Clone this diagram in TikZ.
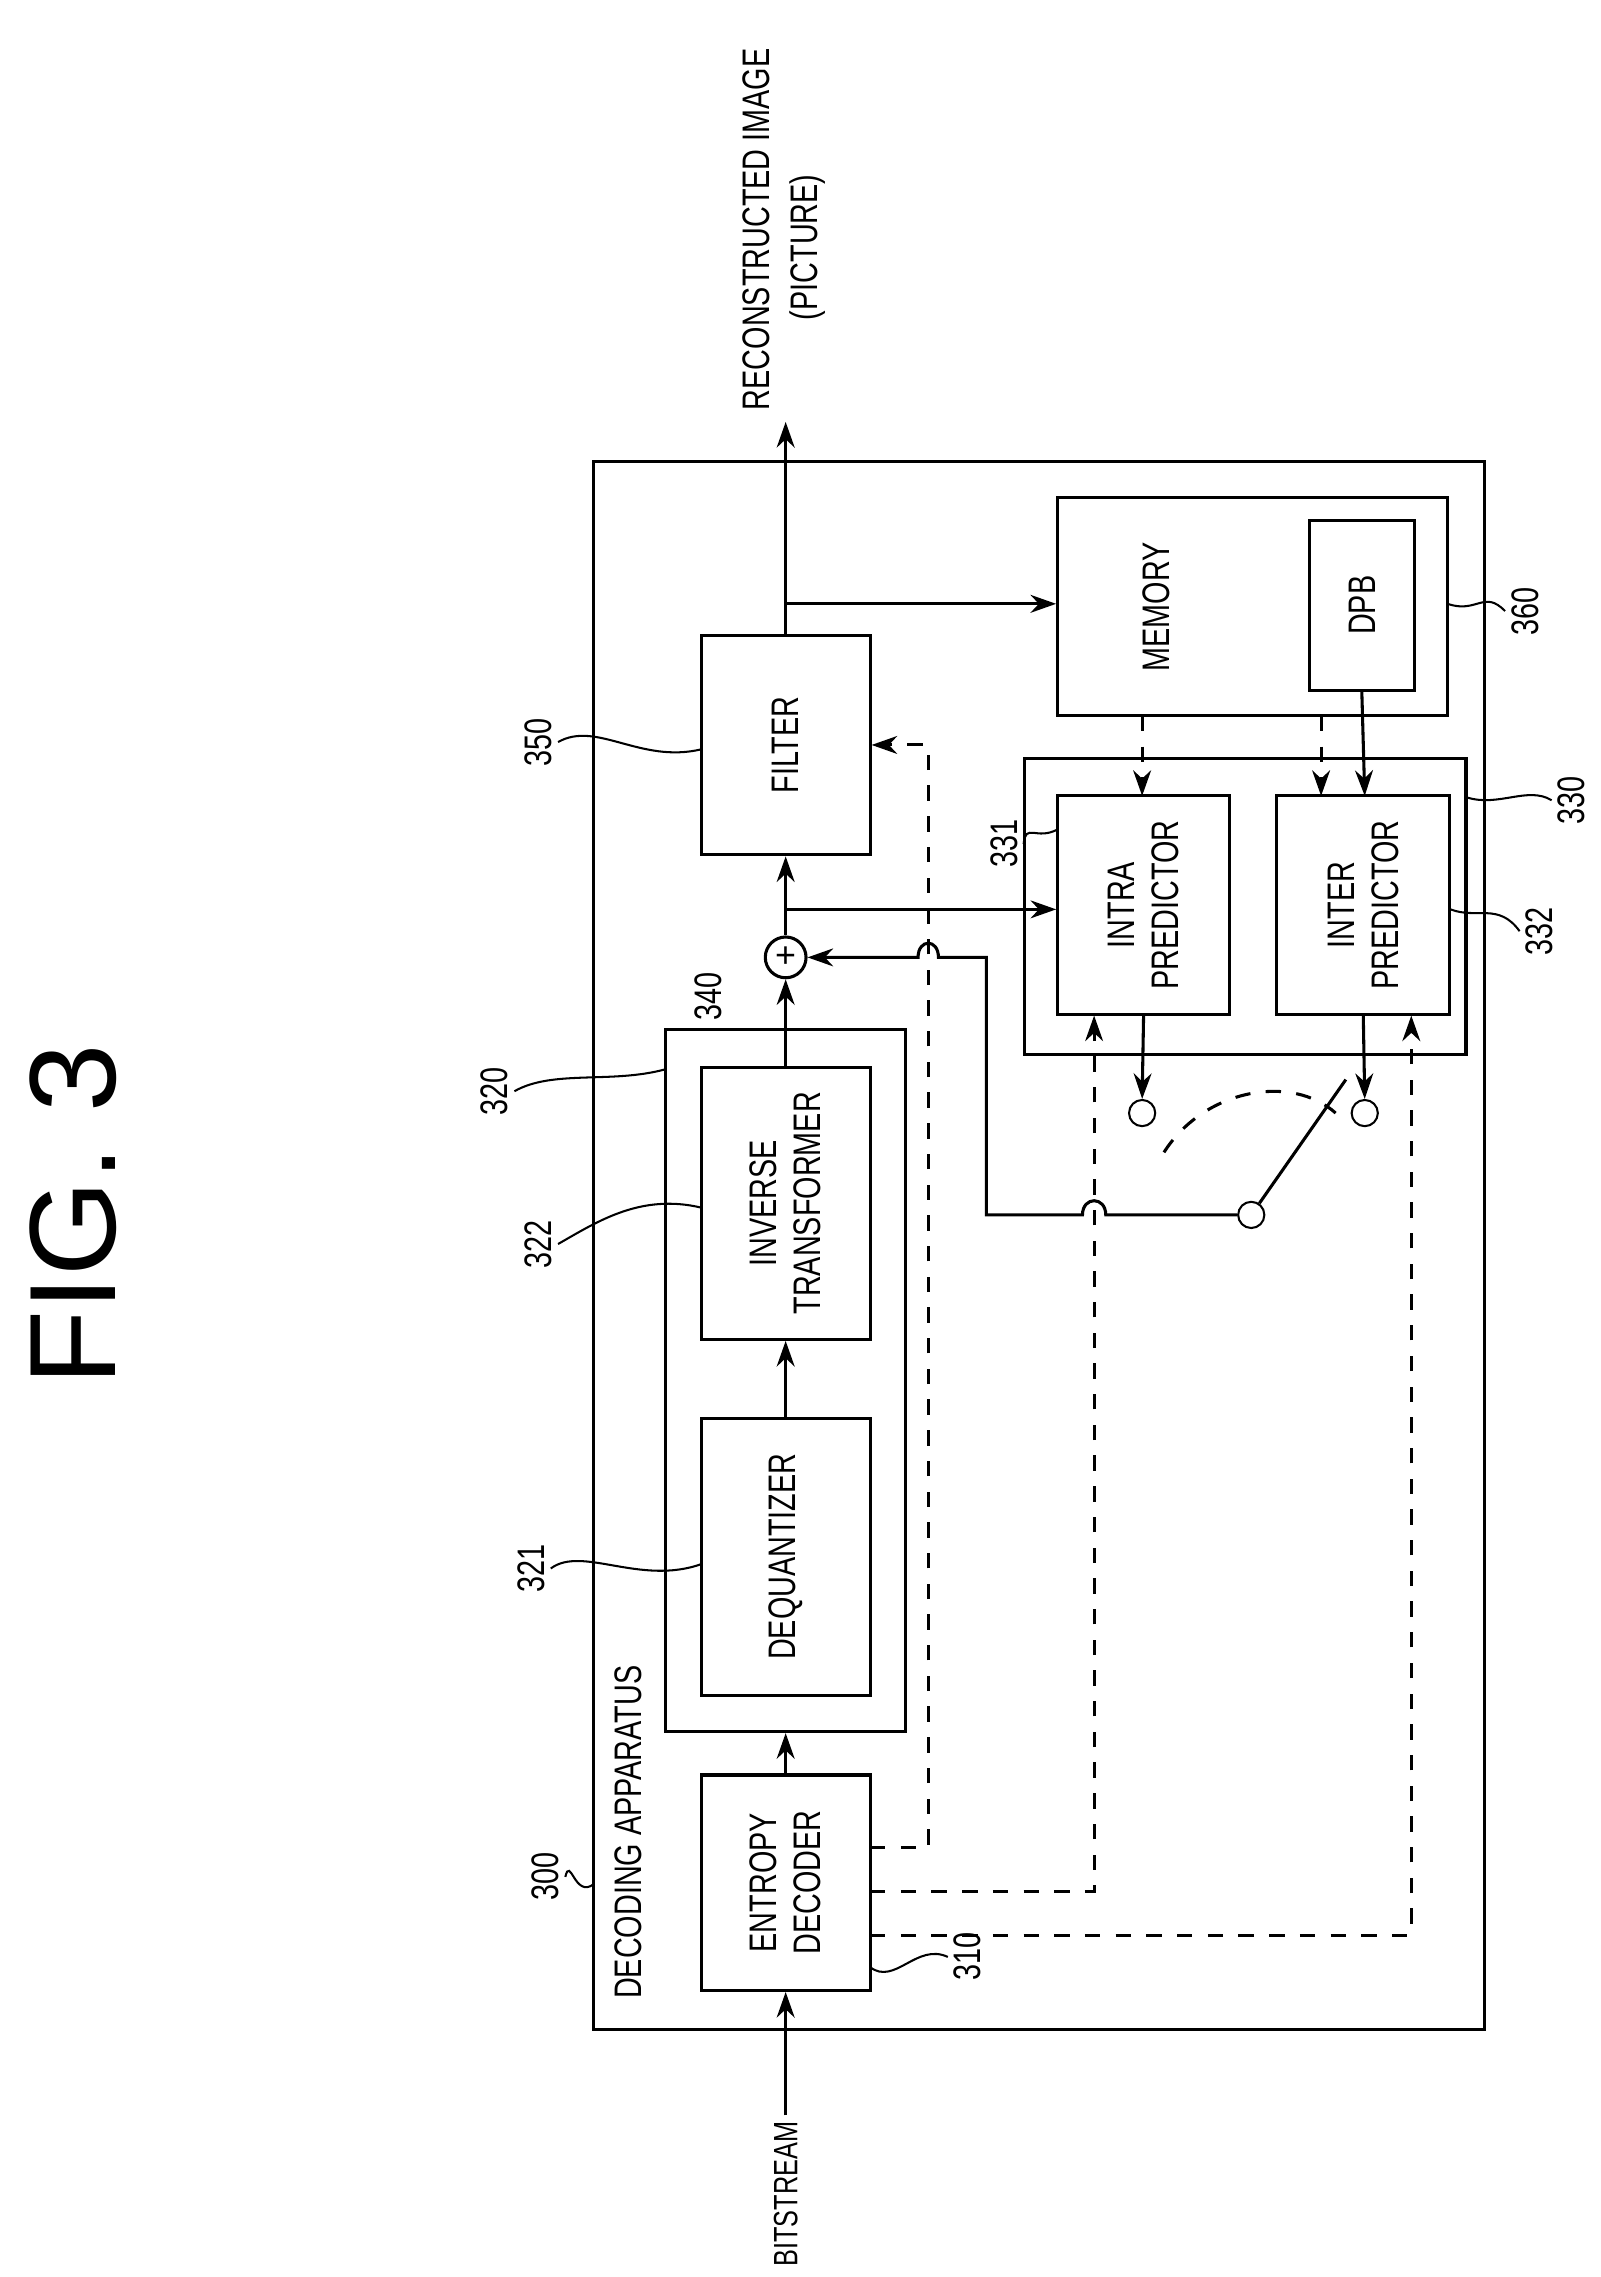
\documentclass[tikz,border=0pt]{standalone}
\usepackage{fontspec}
\setmainfont{Liberation Sans}[FakeStretch=0.75]
\newfontfamily\figfont{Liberation Sans}
\usetikzlibrary{arrows.meta}
\begin{document}
\begin{tikzpicture}[x=0.01cm,y=-0.01cm,
    blk/.style={draw, semithick, inner sep=0pt},
    txt/.style={rotate=90, align=center, font=\fontsize{7.5}{8.6}\selectfont, inner sep=1pt},
    num/.style={rotate=90, font=\fontsize{7.5}{9}\selectfont, inner sep=1pt},
    con/.style={semithick, -{Stealth[length=5pt,width=3.5pt]}},
    dcon/.style={con, dashed},
    lead/.style={thin}]
    \useasboundingbox (0,0) rectangle (1100,1565);
    % title
    \node[rotate=90, font=\figfont\fontsize{24}{28}\selectfont] (fig) at (50,835) {FIG. 3};
    % outer apparatus
    \node[blk, minimum width=6.12cm, minimum height=10.77cm] (dec) at (714,856) {};
    \node[txt, anchor=west] (dectxt) at (432,1378) {DECODING APPARATUS};
    % blocks
    \node[blk, minimum width=1.16cm, minimum height=1.48cm] (ent) at (540,1294) {};
    \node[txt] at (ent) {ENTROPY\\DECODER};
    \node[blk, minimum width=1.65cm, minimum height=4.82cm] (res) at (540,949) {};
    \node[blk, minimum width=1.16cm, minimum height=1.90cm] (deq) at (540,1070) {};
    \node[txt] at (deq) {DEQUANTIZER};
    \node[blk, minimum width=1.16cm, minimum height=1.87cm] (itr) at (540,827) {};
    \node[txt] at (itr) {INVERSE\\TRANSFORMER};
    \node[draw, semithick, circle, minimum size=0.28cm, inner sep=0pt, font=\figfont\fontsize{7}{8}\selectfont] (add) at (540,658) {+};
    \node[blk, minimum width=1.16cm, minimum height=1.51cm] (flt) at (540,512) {};
    \node[txt] at (flt) {FILTER};
    \node[blk, minimum width=2.68cm, minimum height=1.50cm] (mem) at (861,417) {};
    \node[txt] at (795,417) {MEMORY};
    \node[blk, minimum width=0.72cm, minimum height=1.17cm] (dpb) at (936,416) {};
    \node[txt] at (dpb) {DPB};
    \node[blk, minimum width=3.03cm, minimum height=2.03cm] (prd) at (856,623) {};
    \node[blk, minimum width=1.18cm, minimum height=1.51cm] (intra) at (786,622) {};
    \node[txt] at (intra) {INTRA\\PREDICTOR};
    \node[blk, minimum width=1.19cm, minimum height=1.51cm] (inter) at (937,622) {};
    \node[txt] at (inter) {INTER\\PREDICTOR};
    % switch
    \node[draw, circle, minimum size=0.18cm, inner sep=0pt] (tintra) at (785,765) {};
    \node[draw, circle, minimum size=0.18cm, inner sep=0pt] (tinter) at (938,765) {};
    \node[draw, circle, minimum size=0.18cm, inner sep=0pt] (piv) at (860,835) {};
    \coordinate (lever) at (925,742);
    \draw[semithick] (piv) -- (lever);
    \draw[semithick, dashed] (800,792) .. controls (828,748) and (888,738) .. (918,765);
    % in/out texts
    \node[txt, anchor=west, font=\fontsize{6.6}{8}\selectfont] (bits) at (540,1562) {BITSTREAM};
    \node[txt, anchor=west] (rec) at (520,286) {RECONSTRUCTED IMAGE};
    \node[txt] (pic) at (555,170) {(PICTURE)};
    \coordinate (outtip) at (540,290);
    % main path
    \draw[con] (bits.east) -- (ent.south);
    \draw[con] (ent.north) -- (res.south);
    \draw[con] (deq.north) -- (itr.south);
    \draw[con] (itr.north) -- (add.south);
    \draw[con] (add.north) -- (flt.south);
    \draw[con] (flt.north) -- (outtip);
    \draw[con] (540,415) -- (mem.west |- 540,415);
    \draw[con] (540,625) -- (intra.west |- 540,625);
    \draw[dcon] (785,492) -- (785,547);
    \draw[dcon] (908,492) -- (908,547);
    \draw[con] (dpb.south) -- (938,547);
    \draw[con] (intra.north |- 0,698) -- (tintra.north);
    \draw[con] (inter.north |- 0,698) -- (tinter.north);
    % entropy side info (dashed)
    \draw[dcon] (598,1270) -- (638,1270) -- (638,512) -- (flt.east);
    \draw[dcon] (598,1300) -- (752,1300) -- (752,698);
    \draw[dcon] (598,1330) -- (970,1330) -- (970,698);
    % prediction back to adder
    \draw[con] (piv.west) -- (760,835) .. controls (760,822) and (744,822) .. (744,835)
        -- (678,835) -- (678,658) -- (645,658) .. controls (645,645) and (631,645) .. (631,658)
        -- (add.east);
    % reference numerals
    \node[num] (n300) at (375,1290) {300};
    \draw[lead] (n300.south) .. controls (392,1275) and (395,1305) .. (408,1295);
    \node[num] (n310) at (665,1345) {310};
    \draw[lead] (598,1352) .. controls (615,1365) and (630,1335) .. (n310.north);
    \node[num] (n320) at (340,750) {320};
    \draw[lead] (n320.south) .. controls (380,735) and (420,745) .. (457,735);
    \node[num] (n321) at (365,1078) {321};
    \draw[lead] (n321.south) .. controls (400,1062) and (440,1090) .. (482,1075);
    \node[num] (n322) at (370,855) {322};
    \draw[lead] (n322.south) .. controls (410,840) and (440,820) .. (482,830);
    \node[num] (n340) at (487,685) {340};
    \node[num] (n350) at (370,510) {350};
    \draw[lead] (n350.south) .. controls (410,495) and (440,525) .. (482,515);
    \node[num] (n331) at (690,580) {331};
    \draw[lead] (n331.south) .. controls (705,565) and (712,578) .. (727,570);
    \node[num] (n330) at (1080,550) {330};
    \draw[lead] (1008,548) .. controls (1030,555) and (1050,540) .. (n330.north);
    \node[num] (n332) at (1058,640) {332};
    \draw[lead] (997,625) .. controls (1015,632) and (1030,620) .. (n332.north);
    \node[num] (n360) at (1048,420) {360};
    \draw[lead] (995,415) .. controls (1015,422) and (1020,405) .. (n360.north);
\end{tikzpicture}
\end{document}
